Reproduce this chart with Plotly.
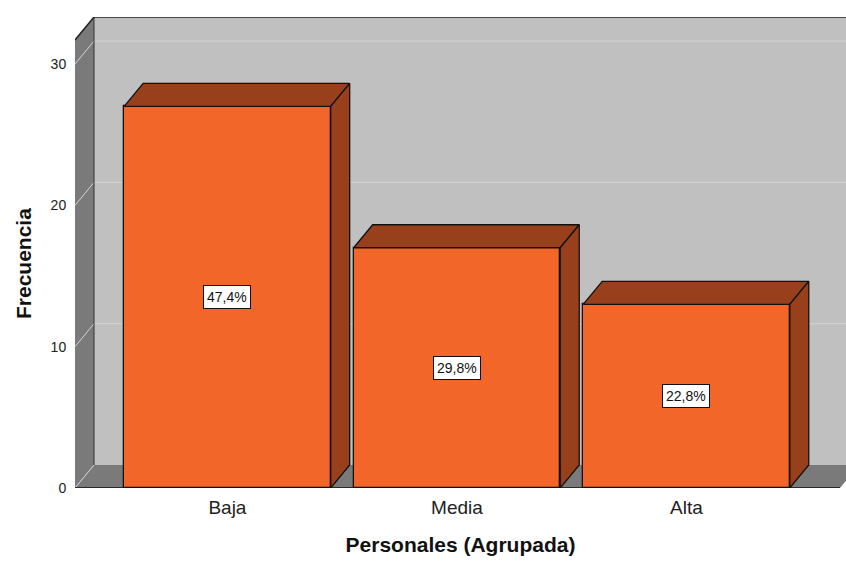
import plotly.graph_objects as go

# ---- data ----
categories = ["Baja", "Media", "Alta"]
counts = [27, 17, 13]
y_ticks = [0, 10, 20, 30]
x_title = "Personales (Agrupada)"
y_title = "Frecuencia"

total = sum(counts)
pct_labels = [f"{c / total * 100:.1f}%".replace(".", ",") for c in counts]

# ---- style ----
FONT = "Arial, Liberation Sans, sans-serif"
FRONT = "#F26629"
DARK = "#983F1C"
WALL_BACK = "#C0C0C0"
WALL_SIDE = "#7A7A7A"
GRID = "#D4D4D4"

DX, DY = 0.0828, 1.627          # 3D depth offset in axis units
X0, X1 = -0.664, 2.695          # x axis range
XF = 2.669                      # right end of floor (front)
YMAX = 33.33
YWALL = YMAX - DY
HW = 0.45

xs = list(range(len(categories)))

fig = go.Figure()


def path_of(pts):
    return "M " + " L ".join(f"{x},{y}" for x, y in pts) + " Z"


shapes = []
# back wall
shapes.append(dict(type="path", xref="x", yref="y", layer="below",
                   path=path_of([(X0 + DX, DY), (X1 + 1, DY), (X1 + 1, YMAX), (X0 + DX, YMAX)]),
                   fillcolor=WALL_BACK, line=dict(width=0)))
# left wall
shapes.append(dict(type="path", xref="x", yref="y", layer="below",
                   path=path_of([(X0, 0), (X0, YWALL), (X0 + DX, YMAX), (X0 + DX, DY)]),
                   fillcolor=WALL_SIDE, line=dict(width=0)))
# floor
shapes.append(dict(type="path", xref="x", yref="y", layer="below",
                   path=path_of([(X0, 0), (XF, 0), (XF + DX, DY), (X0 + DX, DY)]),
                   fillcolor=WALL_SIDE, line=dict(width=0)))
# grid lines (left wall diagonal + back wall horizontal)
for t in y_ticks:
    shapes.append(dict(type="line", xref="x", yref="y", layer="below",
                       x0=X0, y0=t, x1=X0 + DX, y1=t + DY,
                       line=dict(color=GRID, width=1)))
    if t > 0:
        shapes.append(dict(type="line", xref="x", yref="y", layer="below",
                           x0=X0 + DX, y0=t + DY, x1=X1 + 1, y1=t + DY,
                           line=dict(color=GRID, width=1)))
# wall edges
shapes.append(dict(type="line", xref="x", yref="y", layer="below",
                   x0=X0 + DX, y0=YMAX, x1=X1 + 1, y1=YMAX,
                   line=dict(color="#222222", width=1.5)))
shapes.append(dict(type="line", xref="x", yref="y", layer="below",
                   x0=X0, y0=YWALL, x1=X0 + DX, y1=YMAX,
                   line=dict(color="#222222", width=1.5)))
shapes.append(dict(type="line", xref="x", yref="y", layer="below",
                   x0=X0 + DX, y0=DY, x1=X0 + DX, y1=YMAX,
                   line=dict(color="#333333", width=1)))
shapes.append(dict(type="line", xref="x", yref="y", layer="below",
                   x0=X0, y0=0, x1=XF, y1=0,
                   line=dict(color="#111111", width=1.5)))

# front faces
fig.add_trace(go.Bar(x=xs, y=counts, width=2 * HW,
                     marker=dict(color=FRONT, line=dict(color="#111111", width=1.3)),
                     hoverinfo="skip", showlegend=False))

# top and side faces
for x, c in zip(xs, counts):
    top = [(x - HW, c), (x + HW, c), (x + HW + DX, c + DY), (x - HW + DX, c + DY), (x - HW, c)]
    side = [(x + HW, 0), (x + HW + DX, DY), (x + HW + DX, c + DY), (x + HW, c), (x + HW, 0)]
    for pts in (top, side):
        fig.add_trace(go.Scatter(x=[p[0] for p in pts], y=[p[1] for p in pts],
                                 mode="lines", fill="toself", fillcolor=DARK,
                                 line=dict(color="#111111", width=1.3),
                                 hoverinfo="skip", showlegend=False))

annotations = []
for x, c, lab in zip(xs, counts, pct_labels):
    annotations.append(dict(x=x, y=c / 2, xref="x", yref="y", text=lab, showarrow=False,
                            bgcolor="white", bordercolor="#111111", borderwidth=1, borderpad=3,
                            font=dict(family=FONT, size=14, color="#111111")))
# y axis title (placed to match reference position)
annotations.append(dict(x=23, y=563 - 264, xref="paper", yref="paper", text=f"<b>{y_title}</b>",
                        textangle=-90, showarrow=False, xanchor="center", yanchor="middle",
                        font=dict(family=FONT, size=21, color="#111111")))

fig.update_layout(
    width=846, height=563,
    margin=dict(l=75, r=0, t=17, b=75),
    paper_bgcolor="white", plot_bgcolor="white",
    shapes=shapes,
    font=dict(family=FONT, color="#222222"),
    xaxis=dict(range=[X0, X1], tickvals=xs, ticktext=categories,
               showgrid=False, zeroline=False, showline=False,
               ticks="outside", ticklen=2, tickcolor="rgba(0,0,0,0)",
               tickfont=dict(size=19, color="#222222"),
               title=dict(text=f"<b>{x_title}</b>", font=dict(size=21, color="#111111"), standoff=20),
               fixedrange=True),
    yaxis=dict(range=[0, YMAX], tickvals=y_ticks,
               showgrid=False, zeroline=False, showline=False,
               ticks="outside", ticklen=5, tickcolor="rgba(0,0,0,0)",
               tickfont=dict(size=14, color="#222222"),
               fixedrange=True),
    bargap=0,
)

# convert paper-pixel annotation coords for y title into paper fractions
pw, ph = 846 - 75 - 0, 563 - 17 - 75
ann = list(fig.layout.annotations)
fig.layout.annotations = annotations[:-1]
ytitle = annotations[-1]
ytitle["x"] = (23 - 75) / pw
ytitle["y"] = (488 - 264) / ph
fig.add_annotation(**ytitle)

fig.write_html("out.html")
